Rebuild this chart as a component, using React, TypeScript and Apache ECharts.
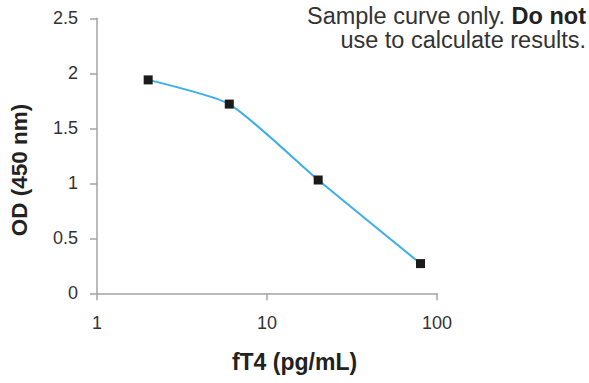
import React, { useEffect, useRef } from "react";
import * as echarts from "echarts";

const concentrations = [2, 6, 20, 80];
const odValues = [1.94, 1.72, 1.03, 0.27];
const xTicks = [1, 10, 100];
const yTicks = [0, 0.5, 1, 1.5, 2, 2.5];
const xTitle = "fT4 (pg/mL)";
const yTitle = "OD (450 nm)";
const noteLine1 = "Sample curve only. ";
const noteBold = "Do not";
const noteLine2 = "use to calculate results.";

export default function App() {
  const ref = useRef<HTMLDivElement>(null);
  useEffect(() => {
    if (!ref.current) return;
    const chart = echarts.init(ref.current, undefined, { renderer: "svg" });
    const axisColor = "#a3a3a3";
    chart.setOption({
      animation: false,
      backgroundColor: "#ffffff",
      grid: { left: 97, top: 18.3, right: 152, bottom: 89.7 },
      xAxis: {
        type: "log",
        logBase: 10,
        min: xTicks[0],
        max: xTicks[xTicks.length - 1],
        axisLine: { show: true, lineStyle: { color: axisColor, width: 1.5 } },
        axisTick: { show: true, length: 7, lineStyle: { color: axisColor, width: 1.5 } },
        splitLine: { show: false },
        minorTick: { show: false },
        axisLabel: {
          margin: 21,
          color: "#333333",
          fontSize: 18,
          fontFamily: "Liberation Sans",
        },
      },
      yAxis: {
        type: "value",
        min: yTicks[0],
        max: yTicks[yTicks.length - 1],
        interval: 0.5,
        axisLine: { show: true, lineStyle: { color: axisColor, width: 1.5 } },
        axisTick: { show: true, length: 7, lineStyle: { color: axisColor, width: 1.5 } },
        splitLine: { show: false },
        axisLabel: {
          margin: 19,
          color: "#333333",
          fontSize: 18,
          fontFamily: "Liberation Sans",
        },
      },
      series: [
        {
          type: "line",
          data: concentrations.map((c, i) => [c, odValues[i]]),
          smooth: 0.2,
          lineStyle: { color: "#3caee8", width: 2 },
          symbol: "rect",
          symbolSize: 9,
          itemStyle: { color: "#1a1a1a" },
          z: 3,
        },
      ],
      graphic: [
        {
          type: "text",
          x: 294.5,
          y: 362,
          style: {
            text: xTitle,
            fontSize: 23,
            fontWeight: "bold",
            fontFamily: "Liberation Sans",
            fill: "#222222",
            align: "center",
            verticalAlign: "middle",
          },
        },
        {
          type: "text",
          x: 19,
          y: 170,
          rotation: Math.PI / 2,
          style: {
            text: yTitle,
            fontSize: 22.5,
            fontWeight: "bold",
            fontFamily: "Liberation Sans",
            fill: "#222222",
            align: "center",
            verticalAlign: "middle",
          },
        },
        {
          type: "text",
          x: 586,
          y: 4,
          style: {
            text: "{a|" + noteLine1 + "}{b|" + noteBold + "}\n{a|" + noteLine2 + "}",
            align: "right",
            verticalAlign: "top",
            rich: {
              a: {
                fontSize: 23.5,
                fontFamily: "Liberation Sans",
                fill: "#333333",
                color: "#333333",
                lineHeight: 24,
                align: "right",
              },
              b: {
                fontSize: 23.5,
                fontWeight: "bold",
                fontFamily: "Liberation Sans",
                fill: "#222222",
                color: "#222222",
                lineHeight: 24,
                align: "right",
              },
            },
          },
        },
      ],
    });
    return () => chart.dispose();
  }, []);
  return (
    <div
      ref={ref}
      style={{ position: "fixed", left: 0, top: 0, width: 589, height: 383 }}
    />
  );
}
